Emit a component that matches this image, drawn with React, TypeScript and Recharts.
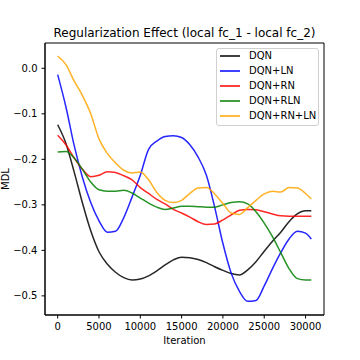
import { LineChart, Line, XAxis, YAxis, Legend, ReferenceArea } from 'recharts'

const iterations = [
  0, 1000, 2000, 3000, 4000, 5000, 6000, 7000, 8000, 9000, 10000, 11000, 12000, 13000, 14000, 15000,
  16000, 17000, 18000, 19000, 20000, 21000, 22000, 23000, 24000, 25000, 26000, 27000, 28000, 29000, 30000, 30700,
]

const dqn = [
  -0.124, -0.165, -0.228, -0.296, -0.357, -0.403, -0.43, -0.448, -0.46, -0.465, -0.463, -0.456, -0.445, -0.432, -0.421, -0.415,
  -0.416, -0.42, -0.427, -0.436, -0.444, -0.451, -0.454, -0.443, -0.425, -0.402, -0.38, -0.36, -0.337, -0.32, -0.313, -0.313,
]
const dqnLn = [
  -0.014, -0.085, -0.17, -0.24, -0.295, -0.335, -0.36, -0.358, -0.328, -0.283, -0.235, -0.178, -0.16, -0.15, -0.148, -0.152,
  -0.168, -0.195, -0.235, -0.305, -0.385, -0.45, -0.49, -0.512, -0.51, -0.478, -0.44, -0.405, -0.375, -0.358, -0.362, -0.375,
]
const dqnRn = [
  -0.147, -0.168, -0.197, -0.222, -0.238, -0.235, -0.227, -0.229, -0.236, -0.245, -0.262, -0.275, -0.288, -0.298, -0.31, -0.318,
  -0.327, -0.337, -0.343, -0.342, -0.333, -0.322, -0.312, -0.31, -0.311, -0.315, -0.32, -0.324, -0.325, -0.325, -0.325, -0.325,
]
const dqnRln = [
  -0.184, -0.183, -0.197, -0.222, -0.25, -0.267, -0.27, -0.27, -0.268, -0.274, -0.285, -0.296, -0.305, -0.31, -0.307, -0.303,
  -0.303, -0.304, -0.305, -0.305, -0.3, -0.295, -0.293, -0.298, -0.315, -0.34, -0.37, -0.405, -0.44, -0.462, -0.465, -0.465,
]
const dqnRnLn = [
  0.027, 0.008, -0.028, -0.06, -0.1, -0.155, -0.187, -0.208, -0.224, -0.23, -0.228, -0.245, -0.273, -0.29, -0.295, -0.29,
  -0.275, -0.263, -0.262, -0.276, -0.297, -0.318, -0.321, -0.306, -0.29, -0.276, -0.27, -0.272, -0.262, -0.263, -0.275, -0.287,
]

const xTicks = [0, 5000, 10000, 15000, 20000, 25000, 30000]
const yTicks = [-0.5, -0.4, -0.3, -0.2, -0.1, 0]
const xDomain: [number, number] = [-1535, 32235]
const yDomain: [number, number] = [-0.542, 0.0556]

const series = [
  { key: 'dqn', name: 'DQN', color: '#000000', values: dqn },
  { key: 'dqnLn', name: 'DQN+LN', color: '#0000ff', values: dqnLn },
  { key: 'dqnRn', name: 'DQN+RN', color: '#ff0000', values: dqnRn },
  { key: 'dqnRln', name: 'DQN+RLN', color: '#008000', values: dqnRln },
  { key: 'dqnRnLn', name: 'DQN+RN+LN', color: '#ffa500', values: dqnRnLn },
]

const data = iterations.map((it, i) => {
  const row: Record<string, number> = { iteration: it }
  for (const s of series) row[s.key] = s.values[i]
  return row
})

const fmtY = (v: number) => (v === 0 ? '0.0' : (v < 0 ? '\u2212' : '') + Math.abs(v).toFixed(1))

function LegendBox() {
  return (
    <div
      style={{
        width: 103,
        height: 78,
        boxSizing: 'border-box',
        border: '1px solid #d0d0d0',
        borderRadius: 3,
        background: 'rgba(255,255,255,0.8)',
        paddingLeft: 3,
      }}
    >
      {series.map(s => (
        <div key={s.key} style={{ display: 'flex', alignItems: 'center', height: 14.8 }}>
          <span style={{ display: 'block', width: 20, height: 2, background: s.color, opacity: 0.75, marginRight: 9 }} />
          <span style={{ fontSize: 10, color: '#000', lineHeight: '10px' }}>{s.name}</span>
        </div>
      ))}
    </div>
  )
}

export default function App() {
  return (
    <div style={{ position: 'absolute', left: 0, top: 0, fontFamily: '"DejaVu Sans"' }}>
      <LineChart width={360} height={360} data={data} margin={{ top: 43, right: 36, bottom: 0, left: 0 }}>
        <XAxis
          dataKey="iteration"
          type="number"
          domain={xDomain}
          ticks={xTicks}
          allowDataOverflow
          height={45}
          tickSize={3.5}
          tickMargin={4}
          stroke="#000"
          tick={{ fill: '#000', fontSize: 10 }}
        />
        <YAxis
          type="number"
          domain={yDomain}
          ticks={yTicks}
          allowDataOverflow
          width={45}
          tickSize={3.5}
          tickMargin={4}
          tickFormatter={fmtY}
          stroke="#000"
          tick={{ fill: '#000', fontSize: 10 }}
        />
        <ReferenceArea
          x1={xDomain[0]}
          x2={xDomain[1]}
          y1={yDomain[0]}
          y2={yDomain[1]}
          fill="none"
          stroke="#000"
          strokeWidth={1}
          ifOverflow="visible"
        />
        {series.map(s => (
          <Line
            key={s.key}
            dataKey={s.key}
            name={s.name}
            type="monotone"
            stroke={s.color}
            strokeOpacity={0.85}
            strokeWidth={1.5}
            dot={false}
            isAnimationActive={false}
          />
        ))}
        <Legend
          layout="vertical"
          align="center"
          verticalAlign="middle"
          wrapperStyle={{ position: 'absolute', top: 48, left: 216, width: 103 }}
          content={() => <LegendBox />}
        />
        <text x={184.5} y={37} textAnchor="middle" fontSize={12} fill="#000">
          Regularization Effect (local fc_1 - local fc_2)
        </text>
        <text x={184.5} y={344} textAnchor="middle" fontSize={10} fill="#000">
          Iteration
        </text>
        <text transform="translate(8.5,179) rotate(-90)" textAnchor="middle" fontSize={10} fill="#000">
          MDL
        </text>
      </LineChart>
    </div>
  )
}
